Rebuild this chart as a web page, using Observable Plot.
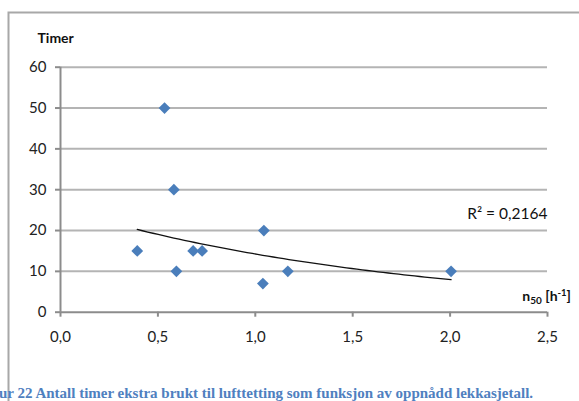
<!DOCTYPE html>
<html>
<head>
<meta charset="utf-8">
<script src="https://cdn.jsdelivr.net/npm/d3@7"></script>
<script src="https://cdn.jsdelivr.net/npm/@observablehq/plot@0.6"></script>
<style>
  html, body { margin: 0; padding: 0; background: #fff; overflow: hidden; }
  #chart svg { display: block; }
</style>
</head>
<body>
<div id="chart"></div>
<script>
// Data
const leakage = [0.394, 0.534, 0.582, 0.595, 0.681, 0.727, 1.039, 1.044, 1.167, 2.005]; // n50 [h-1]
const hours   = [15,    50,    30,    10,    15,    15,    7,     20,    10,    10];    // Timer
const yTicks = [0, 10, 20, 30, 40, 50, 60];
const xTicks = [0, 0.5, 1.0, 1.5, 2.0, 2.5];
const yLabel = "Timer";
const r2Label = "R² = 0,2164";
const caption = "ur 22 Antall timer ekstra brukt til lufttetting som funksjon av oppnådd lekkasjetall.";

const points = leakage.map((x, i) => ({x, y: hours[i]}));

// Exponential trendline (Excel style: least squares on ln y)
const mx = d3.mean(points, d => d.x);
const my = d3.mean(points, d => Math.log(d.y));
const b = d3.sum(points, d => (d.x - mx) * (Math.log(d.y) - my)) / d3.sum(points, d => (d.x - mx) ** 2);
const a = Math.exp(my - b * mx);
const [x0, x1] = d3.extent(leakage);
const trend = d3.range(0, 61).map(i => {
  const x = x0 + (x1 - x0) * i / 60;
  return {x, y: a * Math.exp(b * x)};
});

const fmt = d => d.toFixed(1).replace(".", ",");
const font = "Lato, 'Open Sans', 'Liberation Sans', sans-serif";

const chart = Plot.plot({
  width: 579,
  height: 401,
  marginLeft: 60,
  marginRight: 32,
  marginTop: 66.7,
  marginBottom: 89.3,
  style: {fontFamily: font, fontSize: "15px", color: "#222", background: "#fff"},
  x: {domain: [0, 2.5]},
  y: {domain: [0, 60]},
  marks: [
    Plot.gridY(yTicks.filter(d => d > 0), {stroke: "#b4b4b4", strokeOpacity: 1, strokeWidth: 2}),
    Plot.ruleY([0], {stroke: "#8c8c8c", strokeWidth: 2}),
    Plot.ruleX([0], {stroke: "#8c8c8c", strokeWidth: 2}),
    Plot.axisY({ticks: yTicks, tickSize: 5, tickPadding: 9, stroke: "#8c8c8c", strokeWidth: 2, label: null, fill: "#222", fontSize: 15}),
    Plot.axisX({ticks: xTicks, tickSize: 5, tickPadding: 14, tickFormat: fmt, stroke: "#8c8c8c", strokeWidth: 2, label: null, fill: "#222", fontSize: 15}),
    Plot.line(trend, {x: "x", y: "y", stroke: "#111", strokeWidth: 1.3}),
    Plot.dot(points, {x: "x", y: "y", symbol: "diamond2", r: 5.3, fill: "#4a7ebb", stroke: "none"}),
    Plot.text([r2Label], {frameAnchor: "top-right", dx: 0, dy: 141, text: d => d, fontSize: 15.5, fill: "#111", textAnchor: "end"}),
    Plot.text([yLabel], {frameAnchor: "top-left", dx: -23, dy: -34, text: d => d, fontSize: 14, fontWeight: "bold", fill: "#111", textAnchor: "start"})
  ]
});

const svg = d3.select(chart);
// outer chart-area border (left and top edges visible)
svg.append("path")
  .attr("d", "M8.5,401 V12.5 H579")
  .attr("fill", "none")
  .attr("stroke", "#a8a8a8")
  .attr("stroke-width", 2);

// x-axis title with subscript/superscript
const xt = svg.append("text")
  .attr("x", 571).attr("y", 301)
  .attr("text-anchor", "end")
  .attr("font-family", font)
  .attr("font-size", 14)
  .attr("font-weight", "bold")
  .attr("fill", "#111");
xt.append("tspan").text("n");
xt.append("tspan").attr("font-size", 10).attr("dy", 3).text("50");
xt.append("tspan").attr("dy", -3).text(" [h");
xt.append("tspan").attr("font-size", 9.5).attr("dy", -5).text("-1");
xt.append("tspan").attr("dy", 5).text("]");

// caption
svg.append("text")
  .attr("x", -1).attr("y", 398)
  .attr("text-anchor", "start")
  .attr("font-family", "'Liberation Serif', 'DejaVu Serif', serif")
  .attr("font-size", 15)
  .attr("font-weight", "bold")
  .attr("fill", "#4f80bf")
  .text(caption);

document.getElementById("chart").appendChild(chart);
</script>
</body>
</html>
